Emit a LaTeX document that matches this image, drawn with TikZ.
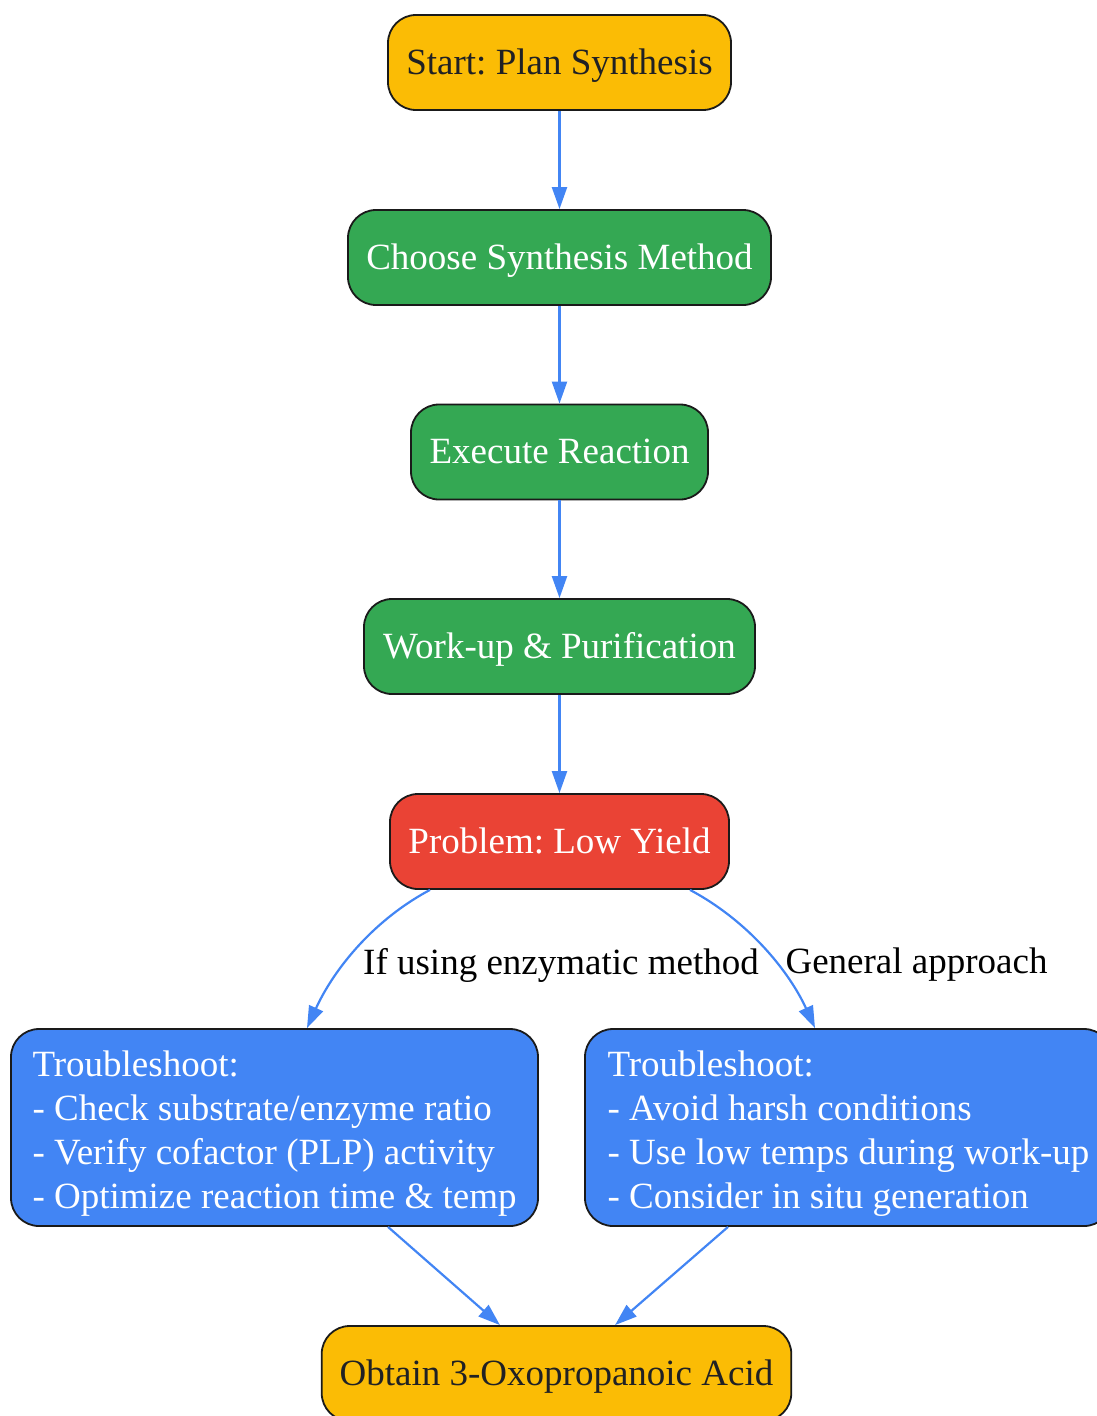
\documentclass[tikz,border=0pt]{standalone}
\usepackage{fontspec}
\setmainfont{Liberation Serif}
\frenchspacing
\usetikzlibrary{arrows.meta,calc}
\definecolor{gyellow}{HTML}{FBBC05}
\definecolor{ggreen}{HTML}{34A853}
\definecolor{gred}{HTML}{EA4335}
\definecolor{gblue}{HTML}{4285F4}
\definecolor{gdark}{HTML}{202124}
\definecolor{gborder}{HTML}{1A1A1A}
\begin{document}
\begin{tikzpicture}[x=1pt,y=-1pt,
  box/.style={draw=gborder,line width=1.8pt,rounded corners=28pt,minimum height=95pt,inner xsep=18pt,
    font=\fontsize{37}{44}\selectfont\frenchspacing,text height=30pt,text depth=7pt},
  ybox/.style={box,fill=gyellow,text=gdark},
  gbox/.style={box,fill=ggreen,text=white},
  rbox/.style={box,fill=gred,text=white},
  bbox/.style={box,fill=gblue,text=white,minimum width=527pt,minimum height=197pt,align=left,text height=,text depth=},
  conn/.style={draw=gblue,line width=2.2pt,-{Triangle[length=22pt,width=15pt]}},
  elabel/.style={font=\fontsize{37}{44}\selectfont,text=black,inner sep=0pt}
]
\useasboundingbox (0,0) rectangle (1097,1416);
\node[ybox,minimum width=343pt] (start) at (559.5,62.5) {Start: Plan Synthesis};
\node[gbox,minimum width=423pt] (choose) at (559.5,257.5) {Choose Synthesis Method};
\node[gbox,minimum width=297pt] (exec) at (559.5,452) {Execute Reaction};
\node[gbox,minimum width=391pt] (work) at (559.5,646.5) {Work-up \& Purification};
\node[rbox,minimum width=339pt] (prob) at (559.5,841.5) {Problem: Low Yield};
\node[bbox] (lt) at (274.5,1127.5) {\rule{0pt}{37pt}Troubleshoot:\\- Check substrate/enzyme ratio\\- Verify cofactor (PLP) activity\\- Optimize reaction time \& temp};
\node[bbox] (rt) at (848.5,1127.5) {\rule{0pt}{37pt}Troubleshoot:\\- Avoid harsh conditions\\- Use low temps during work-up\\- Consider in situ generation};
\node[ybox,minimum width=465pt] (obt) at (556.5,1373.5) {Obtain 3-Oxopropanoic Acid};

\draw[conn] (start) -- (choose);
\draw[conn] (choose) -- (exec);
\draw[conn] (exec) -- (work);
\draw[conn] (work) -- (prob);
\draw[conn] ($(prob.south)+(-129.5,0)$) .. controls +(-60,32) and +(25,-55) .. ($(lt.north)+(32.5,0)$);
\draw[conn] ($(prob.south)+(130.5,0)$) .. controls +(60,32) and +(-25,-55) .. ($(rt.north)+(-33.5,0)$);
\node[elabel] (l1) at (561,965) {If using enzymatic method};
\node[elabel] (l2) at (916.5,965) {General approach};
\draw[conn] ($(lt.south)+(113.5,0)$) -- ($(obt.north)+(-56.5,0)$);
\draw[conn] ($(rt.south)+(-120.5,0)$) -- ($(obt.north)+(58.5,0)$);
\end{tikzpicture}
\end{document}
